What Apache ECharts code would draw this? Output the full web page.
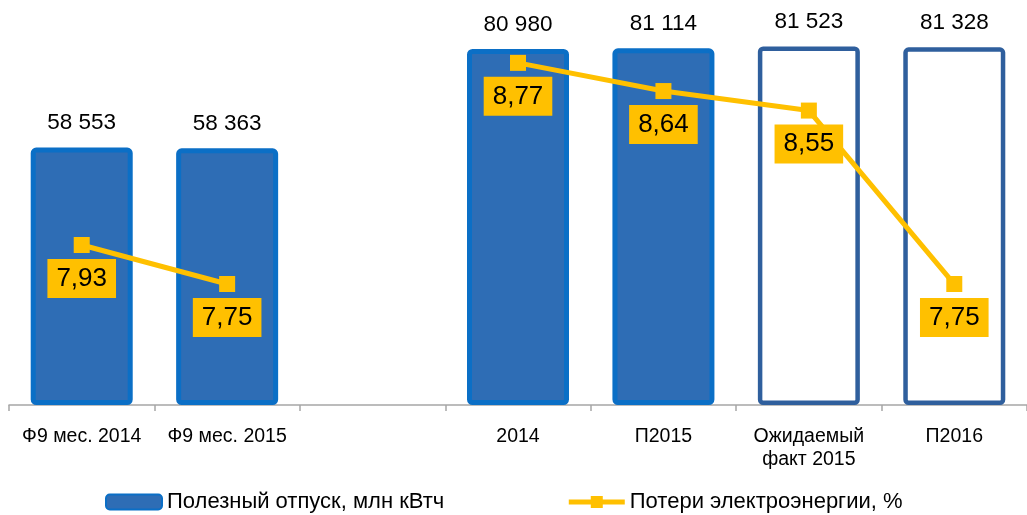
<!DOCTYPE html>
<html>
<head>
<meta charset="utf-8">
<script src="https://cdn.jsdelivr.net/npm/echarts@6/dist/echarts.min.js"></script>
<style>
  html, body { margin: 0; padding: 0; background: #fff; }
</style>
</head>
<body>
<div id="myChart" style="width: 1027px; height: 515px;"></div>
<script>
var categories = ["Ф9 мес. 2014", "Ф9 мес. 2015", "", "2014", "П2015", "Ожидаемый\nфакт 2015", "П2016"];
var supplyValues = [58553, 58363, null, 80980, 81114, 81523, 81328];
var lossValues = [7.93, 7.75, null, 8.77, 8.64, 8.55, 7.75];
var hollowBars = [false, false, false, false, false, true, true];

var FONT = "Liberation Sans, Arial, sans-serif";

var barData = supplyValues.map(function (v, i) {
  if (hollowBars[i]) {
    return { value: v, itemStyle: { color: "#ffffff", borderColor: "#2f5f9d", borderWidth: 4.5 } };
  }
  return v;
});

// 基于准备好的dom，初始化echarts实例
var myChart = echarts.init(document.getElementById("myChart"));
myChart.setOption({
  animation: false,
  textStyle: { fontFamily: FONT },
  legend: {
    left: 100,
    top: 486,
    itemWidth: 56,
    itemHeight: 15,
    itemGap: 122,
    lineStyle: { width: 5 },
    textStyle: { fontSize: 22, color: "#000", fontFamily: FONT },
    data: ["Полезный отпуск, млн кВтч", "Потери электроэнергии, %"]
  },
  grid: { left: 9, width: 1022, top: 0, bottom: 110, containLabel: false },
  xAxis: {
    type: "category",
    data: categories,
    axisLine: { lineStyle: { color: "#a6a6a6", width: 1.5 } },
    axisTick: { show: true, length: 6, lineStyle: { color: "#a6a6a6", width: 1.5 } },
    axisLabel: { fontSize: 19.5, color: "#000", margin: 20, lineHeight: 23, fontFamily: FONT, interval: 0 }
  },
  yAxis: [
    { type: "value", min: 0, max: 92100, show: false },
    { type: "value", min: 7.192, max: 9.06, show: false }
  ],
  series: [
    {
      name: "Полезный отпуск, млн кВтч",
      type: "bar",
      barWidth: 102,
      data: barData,
      itemStyle: { color: "#2e6db5", borderColor: "#0b6fc6", borderWidth: 5, borderRadius: 3 },
      label: {
        show: true,
        position: "top",
        distance: 13,
        fontSize: 22.5,
        color: "#000",
        fontFamily: FONT,
        formatter: function (p) {
          return String(p.value).replace(/\B(?=(\d{3})+(?!\d))/g, " ");
        }
      }
    },
    {
      name: "Потери электроэнергии, %",
      type: "line",
      yAxisIndex: 1,
      data: lossValues,
      symbol: "rect",
      symbolSize: 16,
      lineStyle: { color: "#ffc000", width: 5 },
      itemStyle: { color: "#ffc000" },
      label: {
        show: true,
        position: "bottom",
        distance: 6,
        backgroundColor: "#ffc000",
        padding: [6, 9, 6, 9],
        fontSize: 26,
        lineHeight: 27,
        color: "#000",
        fontFamily: FONT,
        formatter: function (p) {
          return p.value.toFixed(2).replace(".", ",");
        }
      }
    }
  ]
});
</script>
</body>
</html>
